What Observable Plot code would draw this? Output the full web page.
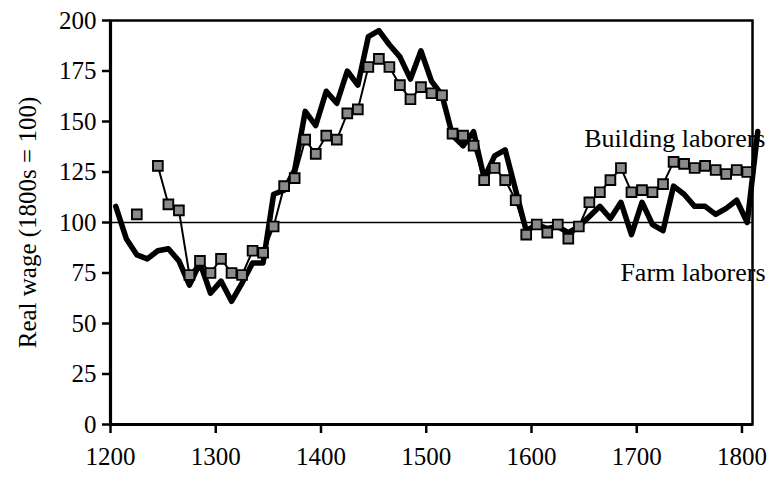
<!DOCTYPE html>
<html>
<head>
<meta charset="utf-8">
<script src="https://cdn.jsdelivr.net/npm/d3@7"></script>
<script src="https://cdn.jsdelivr.net/npm/@observablehq/plot@0.6"></script>
<style>
  html, body { margin: 0; padding: 0; background: #fff; color: #000; }
</style>
</head>
<body>
<div id="chart"></div>
<script>
// Decade mid-points
const years = [1205,1215,1225,1235,1245,1255,1265,1275,1285,1295,
               1305,1315,1325,1335,1345,1355,1365,1375,1385,1395,
               1405,1415,1425,1435,1445,1455,1465,1475,1485,1495,
               1505,1515,1525,1535,1545,1555,1565,1575,1585,1595,
               1605,1615,1625,1635,1645,1655,1665,1675,1685,1695,
               1705,1715,1725,1735,1745,1755,1765,1775,1785,1795,
               1805,1815];

// Farm laborers real wage (thick line)
const farmWage = [108,92,84,82,86,87,81,69,80,65,
                  71,61,70,80,80,114,116,126,155,148,
                  165,159,175,168,192,195,188,182,171,185,
                  170,163,143,138,145,122,133,136,116,96,
                  99,97,98,95,98,103,108,102,110,94,
                  110,99,96,118,114,108,108,104,107,111,
                  100,145];

// Building laborers real wage (squares)
const buildingWage = [null,null,104,null,128,109,106,74,81,75,
                      82,75,74,86,85,98,118,122,141,134,
                      143,141,154,156,177,181,177,168,161,167,
                      164,163,144,143,138,121,127,121,111,94,
                      99,95,99,92,98,110,115,121,127,115,
                      116,115,119,130,129,127,128,126,124,126,
                      125,null];

const xTicks = [1200,1300,1400,1500,1600,1700,1800];
const yTicks = [0,25,50,75,100,125,150,175,200];
const referenceWage = [100];
const yTitle = "Real wage (1800s = 100)";
const seriesNames = ["Building laborers", "Farm laborers"];

const farm = years.map((year, i) => ({year, wage: farmWage[i]}));
const building = years.map((year, i) => ({year, wage: buildingWage[i]}));
const buildingPts = building.filter(d => d.wage != null);

const chart = Plot.plot({
  width: 770,
  height: 492,
  marginLeft: 110,
  marginRight: 18,
  marginTop: 20,
  marginBottom: 68,
  style: {fontFamily: "'Liberation Serif', 'DejaVu Serif', serif", fontSize: "25px", color: "#000", background: "#fff"},
  x: {domain: [1200, 1810]},
  y: {domain: [0, 200]},
  marks: [
    Plot.frame({stroke: "#000", strokeWidth: 2.5}),
    Plot.ruleY(referenceWage, {stroke: "#000", strokeWidth: 1.3}),
    Plot.ruleX([xTicks[0]], {stroke: "#000", strokeWidth: 3.2}),
    Plot.ruleY([yTicks[0]], {stroke: "#000", strokeWidth: 3.2}),
    Plot.axisX({ticks: xTicks, tickFormat: d => String(d), tickSize: 9, tickPadding: 14, strokeWidth: 2.5, fontSize: 25, label: null}),
    Plot.axisY({ticks: yTicks, tickSize: 8, tickPadding: 6, strokeWidth: 2.5, fontSize: 25,
                label: yTitle, labelAnchor: "center", labelOffset: 92, labelArrow: "none"}),
    Plot.line(farm, {x: "year", y: "wage", stroke: "#000", strokeWidth: 5.5, strokeLinejoin: "round", strokeLinecap: "round"}),
    Plot.line(building, {x: "year", y: "wage", stroke: "#000", strokeWidth: 2}),
    Plot.dot(buildingPts, {x: "year", y: "wage", symbol: "square", r: 5.5, fill: "#8a8a8a", stroke: "#000", strokeWidth: 1.9}),
    Plot.text([seriesNames[0]], {text: d => d, frameAnchor: "top-right", dx: 13, dy: 118, textAnchor: "end", lineAnchor: "middle", fontSize: 26, fill: "#000"}),
    Plot.text([seriesNames[1]], {text: d => d, frameAnchor: "top-right", dx: 13, dy: 252, textAnchor: "end", lineAnchor: "middle", fontSize: 26, fill: "#000"})
  ]
});
document.getElementById("chart").appendChild(chart);
</script>
</body>
</html>
